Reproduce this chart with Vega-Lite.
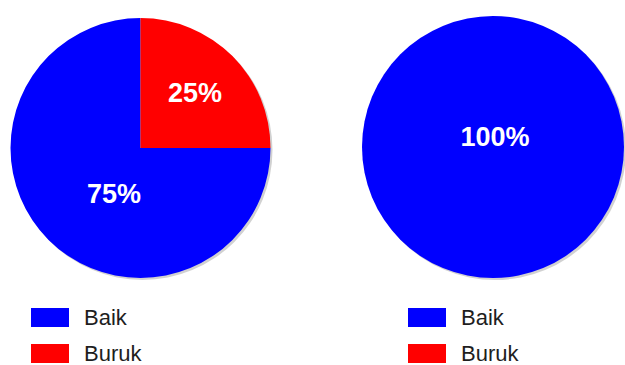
{
  "$schema": "https://vega.github.io/schema/vega-lite/v6.json",
  "padding": 0,
  "background": "white",
  "config": {
    "view": {"stroke": null},
    "concat": {"spacing": 48},
    "text": {"font": "Liberation Sans"}
  },
  "datasets": {
    "kiri": [
      {"status": "Baik", "share": 0.75},
      {"status": "Buruk", "share": 0.25}
    ],
    "kanan": [
      {"status": "Baik", "share": 1.0},
      {"status": "Buruk", "share": 0}
    ]
  },
  "resolve": {"scale": {"color": "independent", "theta": "independent"}, "legend": {"color": "independent"}},
  "hconcat": [
    {
      "width": 281,
      "height": 296,
      "data": {"name": "kiri"},
      "layer": [
        {
          "mark": {"type": "arc", "radius": 130, "color": "#9a9a9a", "opacity": 0.45, "xOffset": 2, "yOffset": 2},
          "encoding": {
            "theta": {"field": "share", "type": "quantitative", "stack": true},
            "order": {"field": "status", "sort": "descending"}
          }
        },
        {
          "mark": {"type": "arc", "radius": 130},
          "encoding": {
            "theta": {"field": "share", "type": "quantitative", "stack": true},
            "order": {"field": "status", "sort": "descending"},
            "color": {
              "field": "status",
              "type": "nominal",
              "scale": {"domain": ["Baik", "Buruk"], "range": ["#0000ff", "#ff0000"]},
              "legend": {
                "orient": "none",
                "legendX": 39,
                "legendY": 306.5,
                "title": null,
                "direction": "vertical",
                "padding": 0,
                "symbolType": "M-1.9,-0.95H1.9V0.95H-1.9Z",
                "symbolSize": 400,
                "symbolStrokeWidth": 0,
                "symbolOpacity": 1,
                "labelFont": "Liberation Sans",
                "labelFontSize": 22,
                "labelColor": "#1e1e1e",
                "labelOffset": 23,
                "rowPadding": 14
              }
            }
          }
        },
        {
          "mark": {"type": "text", "radius": 77, "color": "white", "fontSize": 27, "fontWeight": "bold"},
          "encoding": {
            "theta": {"field": "share", "type": "quantitative", "stack": true},
            "order": {"field": "status", "sort": "descending"},
            "text": {
              "condition": {"test": "datum.status === 'Buruk'", "field": "share", "type": "quantitative", "format": ".0%"},
              "value": ""
            }
          }
        },
        {
          "mark": {"type": "text", "radius": 53, "dx": 11, "dy": 10, "color": "white", "fontSize": 27, "fontWeight": "bold"},
          "encoding": {
            "theta": {"field": "share", "type": "quantitative", "stack": true},
            "order": {"field": "status", "sort": "descending"},
            "text": {
              "condition": {"test": "datum.status === 'Baik'", "field": "share", "type": "quantitative", "format": ".0%"},
              "value": ""
            }
          }
        }
      ]
    },
    {
      "width": 328,
      "height": 294,
      "data": {"name": "kanan"},
      "layer": [
        {
          "mark": {"type": "arc", "radius": 131, "color": "#9a9a9a", "opacity": 0.45, "xOffset": 2, "yOffset": 2},
          "encoding": {
            "theta": {"field": "share", "type": "quantitative", "stack": true},
            "order": {"field": "status", "sort": "descending"}
          }
        },
        {
          "mark": {"type": "arc", "radius": 131},
          "encoding": {
            "theta": {"field": "share", "type": "quantitative", "stack": true},
            "order": {"field": "status", "sort": "descending"},
            "color": {
              "field": "status",
              "type": "nominal",
              "scale": {"domain": ["Baik", "Buruk"], "range": ["#0000ff", "#ff0000"]},
              "legend": {
                "orient": "none",
                "legendX": 87,
                "legendY": 306.5,
                "title": null,
                "direction": "vertical",
                "padding": 0,
                "symbolType": "M-1.9,-0.95H1.9V0.95H-1.9Z",
                "symbolSize": 400,
                "symbolStrokeWidth": 0,
                "symbolOpacity": 1,
                "labelFont": "Liberation Sans",
                "labelFontSize": 22,
                "labelColor": "#1e1e1e",
                "labelOffset": 23,
                "rowPadding": 14
              }
            }
          }
        },
        {
          "mark": {"type": "text", "radius": 0, "dx": 2, "dy": -9, "color": "white", "fontSize": 27, "fontWeight": "bold"},
          "encoding": {
            "theta": {"field": "share", "type": "quantitative", "stack": true},
            "order": {"field": "status", "sort": "descending"},
            "text": {
              "condition": {"test": "datum.share > 0", "field": "share", "type": "quantitative", "format": ".0%"},
              "value": ""
            }
          }
        }
      ]
    }
  ]
}
